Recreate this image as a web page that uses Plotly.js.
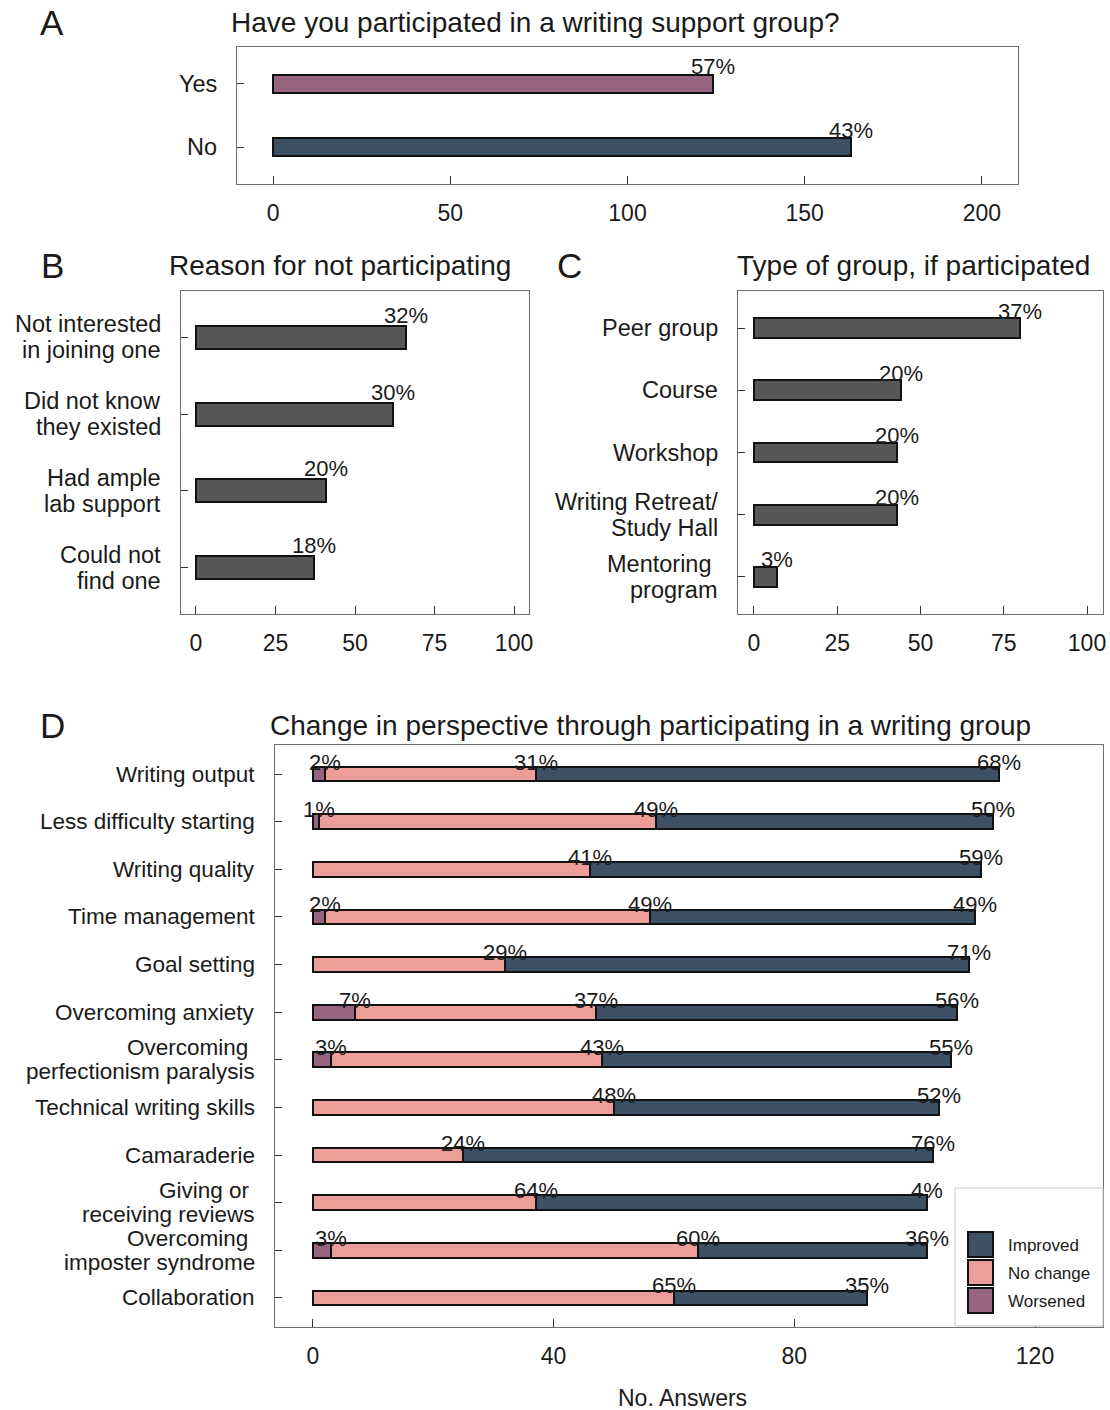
<!DOCTYPE html>
<html>
<head>
<meta charset="utf-8">
<script src="https://cdn.plot.ly/plotly-3.0.1.min.js"></script>
<style>
  html, body { margin: 0; padding: 0; background: #ffffff; }
  #chart { width: 1110px; height: 1410px; }
</style>
</head>
<body>
<div id="chart"></div>
<script>
// ---------- data ----------
// Panel A: participation in a writing support group (counts)
const participatedCats = ['Yes', 'No'];
const participatedCounts = [124, 163];
const participatedLabels = ['57%', '43%'];

// Panel B: reason for not participating (counts)
const reasonCats = ['Not interested<br>in joining one', 'Did not know<br>they existed',
                    'Had ample<br>lab support', 'Could not<br>find one'];
const reasonCounts = [66, 62, 41, 37];
const reasonLabels = ['32%', '30%', '20%', '18%'];

// Panel C: type of group, if participated (counts)
const groupCats = ['Peer group', 'Course', 'Workshop', 'Writing Retreat/<br>Study Hall',
                   'Mentoring\u00a0<br>program'];
const groupCounts = [80, 44, 43, 43, 7];
const groupLabels = ['37%', '20%', '20%', '20%', '3%'];

// Panel D: change in perspective (counts per response)
const changeCats = [
  'Writing output', 'Less difficulty starting', 'Writing quality', 'Time management',
  'Goal setting', 'Overcoming anxiety', 'Overcoming\u00a0<br>perfectionism paralysis',
  'Technical writing skills', 'Camaraderie', 'Giving or\u00a0<br>receiving reviews',
  'Overcoming\u00a0<br>imposter syndrome', 'Collaboration'
];
const worsened = [2, 1, 0, 2, 0, 7, 3, 0, 0, 0, 3, 0];
const noChange = [35, 56, 46, 54, 32, 40, 45, 50, 25, 37, 61, 60];
const improved = [77, 56, 65, 54, 77, 60, 58, 54, 78, 65, 38, 32];
const worsenedLabels = ['2%', '1%', '', '2%', '', '7%', '3%', '', '', '', '3%', ''];
const noChangeLabels = ['31%', '49%', '41%', '49%', '29%', '37%', '43%', '48%', '24%', '64%', '60%', '65%'];
const improvedLabels = ['68%', '50%', '59%', '49%', '71%', '56%', '55%', '52%', '76%', '4%', '36%', '35%'];

const seriesNames = ['Improved', 'No change', 'Worsened'];

// ---------- styling ----------
const W = 1110, H = 1410;
const FONT = 'Liberation Sans, Arial, Helvetica, sans-serif';
const INK = '#1a1a1a';
const COL_IMPROVED = '#3e5063';
const COL_NOCHANGE = '#ee9e99';
const COL_WORSENED = '#966480';
const COL_GREY = '#575757';
const seriesColors = [COL_IMPROVED, COL_NOCHANGE, COL_WORSENED];

const px = v => v / W;          // horizontal pixel -> paper
const py = v => 1 - v / H;      // vertical pixel -> paper

function xAxis(domainPx, range, tickvals) {
  return {
    domain: [px(domainPx[0]), px(domainPx[1])],
    range: range, tickvals: tickvals,
    showline: true, mirror: true, linecolor: '#6e6e6e', linewidth: 1,
    ticks: 'inside', ticklen: 8, tickcolor: '#333333', tickwidth: 1,
    showgrid: false, zeroline: false, fixedrange: true,
    tickfont: { family: FONT, size: 23, color: INK },
    ticklabelstandoff: 8
  };
}
function yAxis(domainPx, cats, pad) {
  return {
    domain: [py(domainPx[1]), py(domainPx[0])],
    type: 'category', categoryarray: cats,
    range: [cats.length - 1 + pad, -pad],
    showline: true, mirror: true, linecolor: '#6e6e6e', linewidth: 1,
    ticks: 'inside', ticklen: 7, tickcolor: '#333333', tickwidth: 1,
    showticklabels: false, showgrid: false, zeroline: false, fixedrange: true
  };
}

const outline = { color: '#111111', width: 2 };

// ---------- traces ----------
const traces = [
  { type: 'bar', orientation: 'h', xaxis: 'x', yaxis: 'y',
    y: participatedCats, x: participatedCounts, width: 0.3,
    marker: { color: [COL_WORSENED, COL_IMPROVED], line: outline },
    showlegend: false, hoverinfo: 'x+y' },
  { type: 'bar', orientation: 'h', xaxis: 'x2', yaxis: 'y2',
    y: reasonCats, x: reasonCounts, width: 0.3,
    marker: { color: COL_GREY, line: outline },
    showlegend: false, hoverinfo: 'x' },
  { type: 'bar', orientation: 'h', xaxis: 'x3', yaxis: 'y3',
    y: groupCats, x: groupCounts, width: 0.32,
    marker: { color: COL_GREY, line: outline },
    showlegend: false, hoverinfo: 'x' },
  { type: 'bar', orientation: 'h', xaxis: 'x4', yaxis: 'y4', name: seriesNames[2],
    y: changeCats, x: worsened, width: 0.31,
    marker: { color: COL_WORSENED, line: outline }, showlegend: false },
  { type: 'bar', orientation: 'h', xaxis: 'x4', yaxis: 'y4', name: seriesNames[1],
    y: changeCats, x: noChange, width: 0.31,
    marker: { color: COL_NOCHANGE, line: outline }, showlegend: false },
  { type: 'bar', orientation: 'h', xaxis: 'x4', yaxis: 'y4', name: seriesNames[0],
    y: changeCats, x: improved, width: 0.31,
    marker: { color: COL_IMPROVED, line: outline }, showlegend: false }
];

// ---------- annotations ----------
const annotations = [];

// value labels sitting on the end of each bar segment
function valueLabels(xref, yref, cats, ends, labels, lift) {
  cats.forEach((c, i) => {
    if (!labels[i]) return;
    annotations.push({
      xref: xref, yref: yref, x: ends[i], y: i, text: labels[i],
      showarrow: false, xanchor: 'center', yanchor: 'middle', yshift: lift,
      font: { family: FONT, size: 22, color: INK }
    });
  });
}

// category labels to the left of each panel, one line at a time (tight leading)
function categoryLabels(xaxisName, yref, cats, gap, lead, size) {
  cats.forEach((c, i) => {
    const lines = c.split('<br>');
    lines.forEach((ln, k) => {
      const off = (lines.length - 1) / 2 * lead - k * lead;
      annotations.push({
        xref: xaxisName + ' domain', yref: yref, x: 0, y: i, text: ln,
        showarrow: false, xanchor: 'right', yanchor: 'middle',
        xshift: -gap, yshift: off, borderpad: 0,
        font: { family: FONT, size: size, color: INK }
      });
    });
  });
}

valueLabels('x', 'y', participatedCats, participatedCounts, participatedLabels, 17);
valueLabels('x2', 'y2', reasonCats, reasonCounts, reasonLabels, 22);
valueLabels('x3', 'y3', groupCats, groupCounts, groupLabels, 17);

const endWorsened = worsened.slice();
const endNoChange = worsened.map((w, i) => w + noChange[i]);
const endImproved = endNoChange.map((s, i) => s + improved[i]);
valueLabels('x4', 'y4', changeCats, endWorsened, worsenedLabels, 12);
valueLabels('x4', 'y4', changeCats, endNoChange, noChangeLabels, 12);
valueLabels('x4', 'y4', changeCats, endImproved, improvedLabels, 12);

categoryLabels('x', 'y', participatedCats, 19, 26, 23.5);
categoryLabels('x2', 'y2', reasonCats, 19, 26, 23.5);
categoryLabels('x3', 'y3', groupCats, 19, 26, 23.5);
categoryLabels('x4', 'y4', changeCats, 19, 23.8, 22.5);

// panel letters and titles
function text(xPx, yPx, s, size, anchor) {
  annotations.push({
    xref: 'paper', yref: 'paper', x: px(xPx), y: py(yPx), text: s,
    showarrow: false, xanchor: anchor, yanchor: 'middle',
    font: { family: FONT, size: size, color: INK }
  });
}
text(52, 22, 'A', 35, 'center');
text(52, 266, 'B', 35, 'center');
text(569, 266, 'C', 35, 'center');
text(52, 725, 'D', 35, 'center');
text(229, 22, 'Have you participated in a writing support group?', 28, 'left');
text(167, 266, 'Reason for not participating', 28, 'left');
text(735, 266, 'Type of group, if participated', 28, 'left');
text(268, 725, 'Change in perspective through participating in a writing group', 28, 'left');
text(682, 1398, 'No. Answers', 23, 'center');

// legend for panel D
const shapes = [{
  type: 'rect', xref: 'paper', yref: 'paper', layer: 'above',
  x0: px(955), x1: px(1103), y0: py(1326), y1: py(1188),
  fillcolor: '#ffffff', line: { color: '#c8c8c8', width: 1 }
}];
seriesNames.forEach((name, k) => {
  const top = 1232 + k * 28;
  shapes.push({
    type: 'rect', xref: 'paper', yref: 'paper', layer: 'above',
    x0: px(968), x1: px(993), y0: py(top + 25), y1: py(top),
    fillcolor: seriesColors[k], line: { color: '#111111', width: 2 }
  });
  annotations.push({
    xref: 'paper', yref: 'paper', x: px(1006), y: py(top + 13), text: name,
    showarrow: false, xanchor: 'left', yanchor: 'middle',
    font: { family: FONT, size: 17, color: INK }
  });
});

const layout = {
  width: W, height: H,
  margin: { l: 0, r: 0, t: 0, b: 0 },
  paper_bgcolor: '#ffffff', plot_bgcolor: '#ffffff',
  barmode: 'stack', showlegend: false,
  font: { family: FONT, color: INK },
  xaxis: Object.assign(xAxis([237, 1018], [-10.2, 210.2], [0, 50, 100, 150, 200]), { anchor: 'y' }),
  yaxis: Object.assign(yAxis([47, 184], participatedCats, 0.587), { anchor: 'x' }),
  xaxis2: Object.assign(xAxis([181, 529], [-4.7, 104.7], [0, 25, 50, 75, 100]), { anchor: 'y2' }),
  yaxis2: Object.assign(yAxis([291, 614], reasonCats, 0.6), { anchor: 'x2' }),
  xaxis3: Object.assign(xAxis([738, 1103], [-4.8, 104.8], [0, 25, 50, 75, 100]), { anchor: 'y3' }),
  yaxis3: Object.assign(yAxis([291, 614], groupCats, 0.6), { anchor: 'x3' }),
  xaxis4: Object.assign(xAxis([275, 1103], [-6.3, 131.3], [0, 40, 80, 120]), { anchor: 'y4' }),
  yaxis4: Object.assign(yAxis([745, 1327], changeCats, 0.61), { anchor: 'x4' }),
  annotations: annotations,
  shapes: shapes
};

Plotly.newPlot('chart', traces, layout, { staticPlot: true, displayModeBar: false });
</script>
</body>
</html>
